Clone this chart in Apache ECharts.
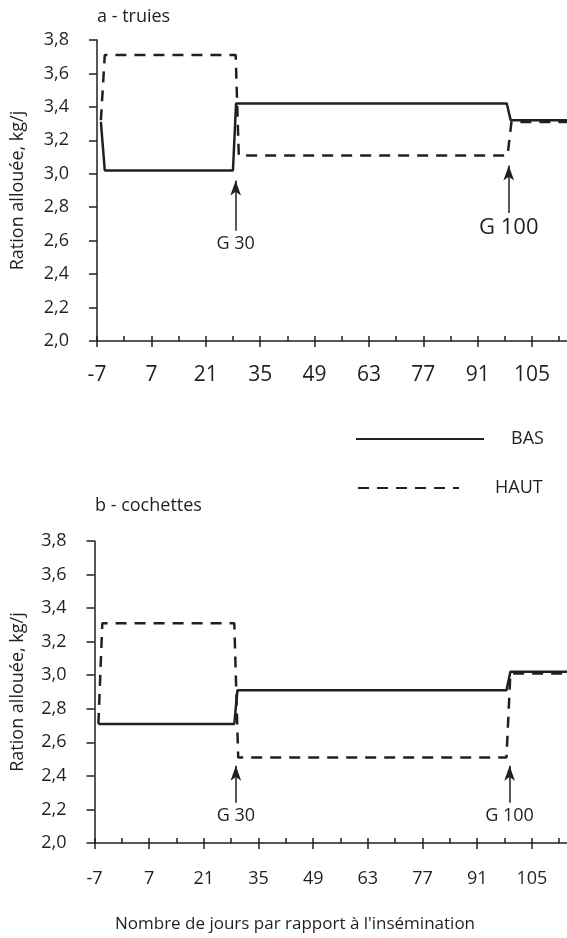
<!DOCTYPE html>
<html><head><meta charset="utf-8">
<script src="https://cdn.jsdelivr.net/npm/echarts@6/dist/echarts.min.js"></script>
<style>html,body{margin:0;padding:0;background:#fff}#c{width:567px;height:938px}</style>
</head><body><div id="c"></div>
<script>
// ---- data ----
const xTickLabels = [-7, 7, 21, 35, 49, 63, 77, 91, 105];
const xMinorTicks = [-7, 0, 7, 14, 21, 28, 35, 42, 49, 56, 63, 70, 77, 84, 91, 98, 105, 112];
const yMin = 2.0, yMax = 3.8, yStep = 0.2;

const truiesBasDays    = [-6, -5, 28, 28.8, 98.5, 99.5, 114];
const truiesBasValues  = [3.31, 3.02, 3.02, 3.42, 3.42, 3.32, 3.32];
const truiesHautDays   = [-6, -5, 28.7, 29.5, 98.7, 99.7, 114];
const truiesHautValues = [3.32, 3.71, 3.71, 3.11, 3.11, 3.31, 3.31];

const cochettesBasDays    = [-6, 28.8, 29.6, 98.5, 99.5, 114];
const cochettesBasValues  = [2.71, 2.71, 2.91, 2.91, 3.02, 3.02];
const cochettesHautDays   = [-6, -5, 28.8, 29.8, 98.5, 99.5, 114];
const cochettesHautValues = [2.71, 3.31, 3.31, 2.51, 2.51, 3.01, 3.01];

const truiesArrowLabels = ['G 30', 'G 100'];
const truiesArrowDays   = [28.7, 99.0];
const truiesArrowFrom   = [2.66, 2.765];
const truiesArrowTo     = [2.96, 3.05];
const cochettesArrowLabels = ['G 30', 'G 100'];
const cochettesArrowDays   = [29.2, 99.3];
const cochettesArrowFrom   = [2.24, 2.24];
const cochettesArrowTo     = [2.46, 2.46];

const panelTitles = ['a - truies', 'b - cochettes'];
const yName = 'Ration allouée, kg/j';
const xName = "Nombre de jours par rapport à l'insémination";
// ---- end data ----

const INK = '#231f20';
const FONT = 'Open Sans';
const zip = (xs, ys) => xs.map((x, i) => [x, ys[i]]);

function xAxes(grid, fontSize, margin) {
  return [
    { type: 'value', gridIndex: grid, min: -7, max: 114, interval: 14,
      axisLine: { show: true, onZero: false, lineStyle: { color: INK, width: 1.5 } },
      axisTick: { show: true, length: 6, customValues: xTickLabels, lineStyle: { color: INK, width: 1.5 } },
      axisLabel: { customValues: xTickLabels, fontSize: fontSize, fontFamily: FONT, color: INK, margin: margin },
      splitLine: { show: false } },
    { type: 'value', gridIndex: grid, min: -7, max: 114, interval: 7, position: 'bottom',
      axisLine: { show: false, onZero: false },
      axisTick: { show: true, inside: true, length: 5, customValues: xMinorTicks, lineStyle: { color: INK, width: 1.5 } },
      axisLabel: { show: false }, splitLine: { show: false } }
  ];
}
function yAxis(grid, gap) {
  return { type: 'value', gridIndex: grid, min: yMin, max: yMax, interval: yStep,
    name: yName, nameLocation: 'middle', nameGap: gap,
    nameTextStyle: { fontSize: 18, fontFamily: FONT, color: INK },
    axisLine: { show: true, onZero: false, lineStyle: { color: INK, width: 1.5 } },
    axisTick: { show: true, length: 8, lineStyle: { color: INK, width: 1.5 } },
    axisLabel: { fontSize: 18, fontFamily: FONT, color: INK, margin: 28,
      formatter: v => v.toFixed(1).replace('.', ',') },
    splitLine: { show: false } };
}
function arrows(labels, days, from, to, sizes) {
  return { silent: true, animation: false, symbol: ['none', 'arrow'], symbolSize: [8, 15],
    lineStyle: { color: INK, width: 1.5, type: 'solid' },
    data: labels.map((l, i) => [
      { coord: [days[i], from[i]], label: { show: true, position: 'start', formatter: l,
        fontSize: sizes[i], fontFamily: FONT, color: INK, distance: 4 } },
      { coord: [days[i], to[i]] }
    ]) };
}
function lineSeries(name, data, xi, yi, dashed, markLine) {
  const s = { name: name, type: 'line', xAxisIndex: xi, yAxisIndex: yi, data: data,
    symbol: 'none', animation: false,
    lineStyle: { color: INK, width: 2.5, type: dashed ? [11, 8] : 'solid' },
    itemStyle: { color: INK } };
  if (markLine) s.markLine = markLine;
  return s;
}
const legendText = pad => ({ fontSize: 18, fontFamily: FONT, color: INK, padding: pad });

const chart = echarts.init(document.getElementById('c'), null, { renderer: 'canvas' });
chart.setOption({
  backgroundColor: '#fff',
  animation: false,
  title: [
    { text: panelTitles[0], left: 97, top: 8, padding: 0, textStyle: { fontSize: 18, fontWeight: 'normal', fontFamily: FONT, color: INK } },
    { text: panelTitles[1], left: 95, top: 497, padding: 0, textStyle: { fontSize: 18, fontWeight: 'normal', fontFamily: FONT, color: INK } },
    { text: xName, left: 295, textAlign: 'center', top: 916, padding: 0, textStyle: { fontSize: 17, fontWeight: 'normal', fontFamily: FONT, color: INK } }
  ],
  legend: [
    { data: ['BAS'], left: 355, top: 430, orient: 'vertical', itemWidth: 128, itemHeight: 18, padding: 0,
      selectedMode: false, itemStyle: { opacity: 0 }, textStyle: legendText([3, 0, 0, 22]) },
    { data: ['HAUT'], left: 357, top: 479, orient: 'vertical', itemWidth: 101, itemHeight: 18, padding: 0,
      selectedMode: false, itemStyle: { opacity: 0 }, textStyle: legendText([2, 0, 0, 31]) }
  ],
  grid: [
    { left: 97, right: 0, top: 40, height: 301 },
    { left: 94.5, right: 0, top: 541, height: 302 }
  ],
  xAxis: [...xAxes(0, 21, 24), ...xAxes(1, 18, 27)],
  yAxis: [yAxis(0, 70), yAxis(1, 67.5)],
  series: [
    lineSeries('BAS', zip(truiesBasDays, truiesBasValues), 0, 0, false,
      arrows(truiesArrowLabels, truiesArrowDays, truiesArrowFrom, truiesArrowTo, [18, 22])),
    lineSeries('HAUT', zip(truiesHautDays, truiesHautValues), 0, 0, true),
    lineSeries('BAS', zip(cochettesBasDays, cochettesBasValues), 2, 1, false,
      arrows(cochettesArrowLabels, cochettesArrowDays, cochettesArrowFrom, cochettesArrowTo, [18, 18])),
    lineSeries('HAUT', zip(cochettesHautDays, cochettesHautValues), 2, 1, true)
  ]
});
</script></body></html>
